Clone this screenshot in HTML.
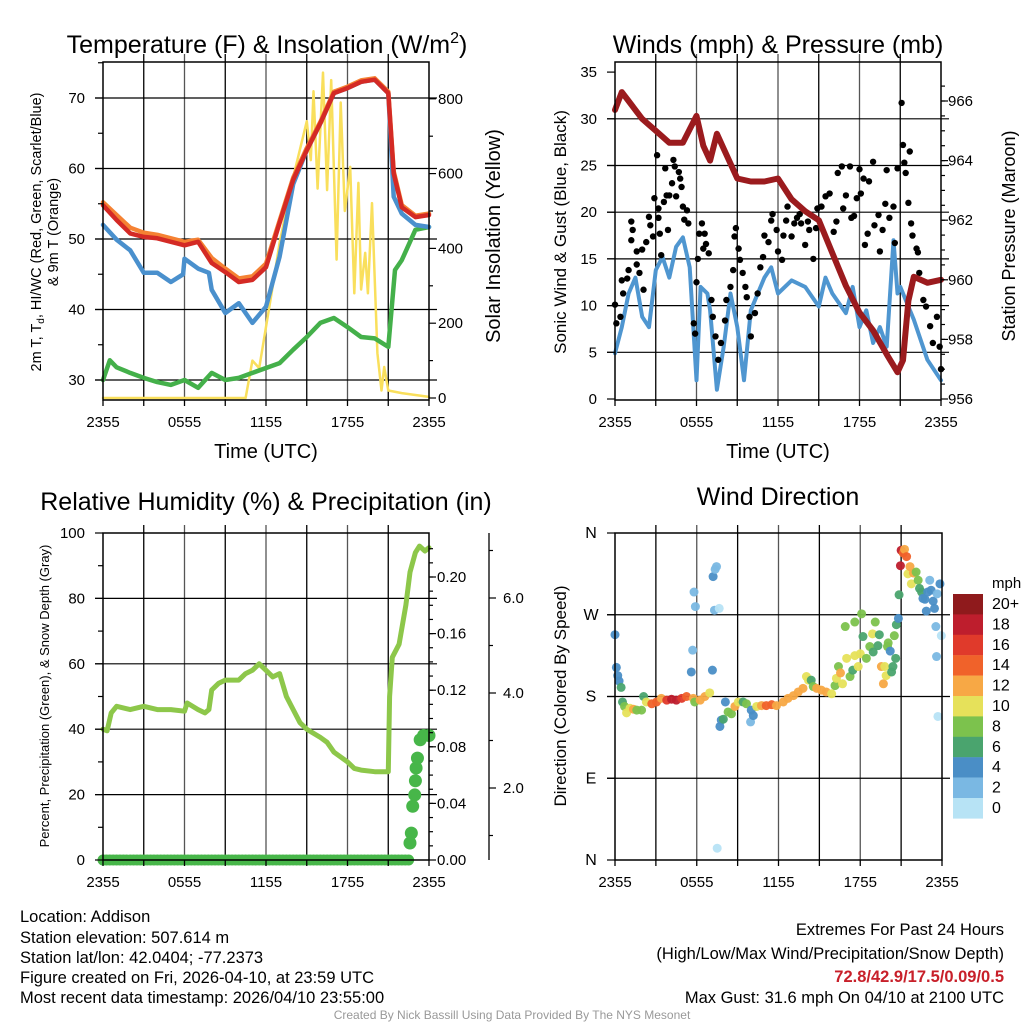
<!DOCTYPE html>
<html><head><meta charset="utf-8"><style>
html,body{margin:0;padding:0;background:#fff;}
svg{display:block;font-family:"Liberation Sans",sans-serif;}
</style></head><body>
<svg id="chart" width="1024" height="1024" viewBox="0 0 1024 1024" xmlns="http://www.w3.org/2000/svg">
<rect width="1024" height="1024" fill="#fff"/>
<g id="layer-grid"></g>
<g id="layer-data"></g>
<g id="layer-axes"></g>
<g font-size="25" text-anchor="middle" fill="#000">
<text x="267" y="53">Temperature (F) &amp; Insolation (W/m<tspan font-size="16" dy="-10">2</tspan><tspan dy="10">)</tspan></text>
<text x="778" y="53">Winds (mph) &amp; Pressure (mb)</text>
<text x="266" y="510">Relative Humidity (%) &amp; Precipitation (in)</text>
<text x="778" y="505">Wind Direction</text>
</g>
<g font-size="20" text-anchor="middle">
<text x="266" y="458">Time (UTC)</text>
<text x="778" y="458">Time (UTC)</text>
<text transform="translate(500,236) rotate(-90)">Solar Insolation (Yellow)</text>
<text transform="translate(1015,236) rotate(-90)" font-size="18">Station Pressure (Maroon)</text>
</g>
<g font-size="14.5" text-anchor="middle">
<text transform="translate(41,232) rotate(-90)">2m T, T<tspan font-size="10" dy="3">d</tspan><tspan dy="-3">, HI/WC (Red, Green, Scarlet/Blue)</tspan></text>
<text transform="translate(58,232) rotate(-90)">&amp; 9m T (Orange)</text>
</g>
<text transform="translate(49,696) rotate(-90)" font-size="13" text-anchor="middle">Percent, Precipitation (Green), &amp; Snow Depth (Gray)</text>
<g font-size="17" text-anchor="middle">
<text transform="translate(566,232) rotate(-90)">Sonic Wind &amp; Gust (Blue, Black)</text>
<text transform="translate(566,696) rotate(-90)">Direction (Colored By Speed)</text>
</g>
<g id="colorbar"></g>
<g font-size="16.5" fill="#000">
<text x="20" y="922">Location: Addison</text>
<text x="20" y="943">Station elevation: 507.614 m</text>
<text x="20" y="963">Station lat/lon: 42.0404; -77.2373</text>
<text x="20" y="983">Figure created on Fri, 2026-04-10, at 23:59 UTC</text>
<text x="20" y="1003">Most recent data timestamp: 2026/04/10 23:55:00</text>
</g>
<g font-size="16.5" text-anchor="end" fill="#000">
<text x="1004" y="935">Extremes For Past 24 Hours</text>
<text x="1004" y="959">(High/Low/Max Wind/Precipitation/Snow Depth)</text>
<text x="1004" y="982" fill="#c8202a" font-weight="bold">72.8/42.9/17.5/0.09/0.5</text>
<text x="1004" y="1003">Max Gust: 31.6 mph On 04/10 at 2100 UTC</text>
</g>
<text x="512" y="1019" font-size="12" fill="#999" text-anchor="middle">Created By Nick Bassill Using Data Provided By The NYS Mesonet</text>
</svg>
<script>
// ---------- data ----------
const xTickLabels = ["2355","0555","1155","1755","2355"];
const tempH = [0,1,2,3,4,5,6,7,8,9,10,11,12,13,14,15,16,17,18,19,20,21,21.4,22,23,24];
const tempRed = [54.8,52.7,50.8,50.3,50.1,49.6,49.1,49.6,46.6,45.3,43.9,44.2,46,52.3,58.4,62.6,66.4,70.7,71.4,72.3,72.6,70.7,59.3,54.5,53.1,53.4];
const tempOrange = [55.2,53.4,51.6,50.9,50.6,50.1,49.6,49.9,47.3,45.8,44.4,44.7,46.5,52.6,58.7,62.9,66.6,70.9,71.6,72.5,72.8,70.9,59.6,54.8,53.3,53.6];
const blueH = [0,1,2,3,4,5,5.9,6,7,7.8,8,9,10,11,12,13,14,15,16,17,18,19,20,21,21.4,22,23,24];
const tempBlue = [52,49.9,48.4,45.2,45.2,43.9,45,47.2,45.8,45.2,42.8,39.5,40.9,38.1,40.4,47.5,57.8,62.6,66.4,70.7,71.4,72.3,72.6,70.7,56,53.6,52,51.7];
const greenH = [0,0.5,1,2,3,4,5,6,7,8,9,10,11,12,13,14,15,16,17,18,19,20,21,21.5,22,23,24];
const tempGreen = [30,32.8,31.8,31,30.3,29.7,29.3,30,28.9,31,30,30.3,31,31.7,32.4,34.3,36.1,38.1,38.8,37.5,36.1,35.9,34.7,45.6,47,51.3,51.7];
const solarH = [0,10.5,11,11.5,12,12.5,13,14,15,15.3,15.5,15.8,16.2,16.5,16.8,17.2,17.5,17.8,18.2,18.5,18.8,19,19.3,19.5,19.8,20.2,20.5,20.7,21,22,24];
const solarV = [0,0,100,80,190,300,415,590,740,636,820,560,870,556,850,370,790,500,618,280,575,290,388,280,521,120,20,83,20,13,3];
const pressH = [0,0.5,1,2,3,4,5,6,6.5,7,7.5,8,9,10,11,12,13,14,15,16,17,18,19,20,20.8,21.2,21.6,22,23,24];
const pressV = [965.7,966.3,966.0,965.4,965.0,964.6,964.6,965.5,964.5,964.0,964.9,964.4,963.4,963.3,963.3,963.4,962.7,962.3,962.0,960.9,959.8,958.9,958.3,957.5,956.9,957.3,959.3,960.1,959.9,960.0];
const windH = [0,0.5,1,1.5,2,2.5,3,3.5,4,4.5,5,5.5,6,6.3,6.8,7,7.5,8,8.5,9,9.5,10,11,11.5,12,13,14,15,15.5,16,17,17.5,18,18.5,19,19.5,20,20.5,20.8,21,22,23,24];
const windV = [4.9,7.7,11.3,13,8.8,7.7,13.8,15.2,13,16.3,17.3,14.1,2,12,11.3,9.5,1,5.6,11.3,7.7,2,9.5,13,14.1,11.3,12.7,12,9.9,13,11.3,9.2,12,7.7,9.5,6,7.7,5.6,17,11.3,12,8.5,4.2,2];
const gustH = [0,0.1,0.4,0.5,0.6,0.9,1,1.2,1.2,1.3,1.6,1.6,1.8,2,2.1,2.3,2.5,2.6,2.8,2.9,3.1,3.2,3.2,3.3,3.4,3.6,3.7,3.8,3.9,4,4.2,4.3,4.4,4.5,4.7,4.8,4.9,5,5.1,5.3,5.4,5.8,5.9,6,6.1,6.2,6.4,6.5,6.6,6.7,6.9,7.1,7.2,7.4,7.6,7.8,8.1,8.2,8.5,8.7,8.8,8.9,9.1,9.2,9.4,9.6,9.7,9.9,10,10.3,10.5,10.7,10.9,11,11.3,11.5,11.6,11.9,12,12.3,12.4,12.6,12.7,13,13.2,13.4,13.6,13.7,14,14.2,14.3,14.6,14.8,14.9,15.2,15.5,15.8,16.1,16.3,16.4,16.7,16.8,17,17.3,17.4,17.6,17.8,18,18.1,18.3,18.4,18.6,18.7,19,19.1,19.4,19.5,19.7,19.9,20,20.2,20.5,20.6,20.8,21.1,21.2,21.3,21.4,21.6,21.7,21.8,21.9,22.2,22.3,22.4,22.7,22.9,23.2,23.4,23.7,23.9,24];
const gustV = [10.1,8.1,8.8,12.7,11.3,12.9,13.8,17,19,18.1,15.8,14.4,13.5,16,11.7,16.8,19.5,18.6,17.4,21.5,26.1,20.4,19.4,17.7,15.4,21.1,24.7,21.8,18.1,21.8,23.1,25.6,24.9,21.7,24.3,23.6,22.7,20.6,19.2,20.2,18.8,8.1,7,12.5,15,17.7,18.8,16.1,17.7,16.6,15.6,10.6,8.8,6.7,4.2,6,8.4,10.6,12,13.8,17.4,18.3,16.1,14.9,13.5,12,10.9,8.8,6.7,9.2,11.3,14.1,15.2,17.5,16.8,19.1,19.8,18.1,15.8,14.9,17.5,19.1,20.6,17.4,18.8,19.4,19.8,18.8,16.5,19,18.1,15,18.3,20.4,20.6,21.7,22,17.9,19,24.2,24.9,20.4,21.8,24.9,19.4,19.6,21.5,24.6,22,23.6,16.5,17.7,23.3,25.4,18.6,19.7,15.8,18.1,20.9,24.5,19.4,20.6,16.7,24.7,31.7,27.2,25.3,24.2,21,26.5,18.8,17.5,16.1,15.7,13.5,10.6,9.9,7.8,6,8.8,5.6,3.2];
const rhH = [0,0.3,0.6,1,2,3,4,5,6,6.2,7,7.5,7.8,8,8.5,9,10,10.5,11,11.5,12,12.5,13,13.5,14,14.5,15,16,16.5,17,18,18.5,19,20,21,21.1,21.3,21.8,22.3,22.6,23,23.3,23.7,24];
const rhV = [40,39.5,45,47,46,47,46,46,45.5,48,46,45,46,52,54,55,55,57,58,60,58,56,57,50,46,42,40,37.5,36,33,30,28,27.5,27,27,50,62,66,78,88,94,96,94.5,95.5];
const precipH = [22.6,22.7,22.8,22.95,23.0,23.05,23.15,23.35,23.6,24];
const precipV = [0.012,0.019,0.038,0.046,0.056,0.065,0.072,0.085,0.088,0.088];
const snowTickLabels = ["2.0","4.0","6.0"];
const dirH = [0,0.1,0.2,0.3,0.45,0.55,0.7,0.85,1.1,1.35,1.6,1.95,2.1,2.3,2.7,3.05,3.4,3.8,4.15,4.5,4.9,5.25,5.75,5.85,6.25,6.6,6.95,5.8,5.9,5.7,5.6,7.2,7.35,7.45,7.3,7.65,7.15,7.5,7.7,7.8,7.95,8.1,8.3,8.55,8.8,9.05,9.4,9.65,9.95,10.0,10.15,10.4,10.75,11.1,11.5,11.85,12.35,12.7,13.1,13.45,13.8,14.05,14.2,14.4,14.55,14.8,15.15,15.5,15.9,16.15,16.25,16.4,16.55,16.7,16.9,17.0,17.25,17.45,17.6,17.6,17.85,18.0,18.1,18.2,18.45,18.7,18.9,18.95,19.1,19.3,19.4,19.55,19.7,19.8,19.9,20.0,20.05,20.2,20.3,20.4,20.5,20.6,20.65,20.8,20.85,20.95,21.0,21.15,21.25,21.4,21.5,21.65,21.75,21.9,22.1,22.25,22.35,22.5,22.6,22.75,22.85,22.95,23.1,23.2,23.35,23.45,23.55,23.6,23.65,23.7,23.85,23.95];
const dirDeg = [248,212,203,197,190,174,169,162,167,166,165,165,180,174,172,174,178,176,177,176,178,180,178,174,176,180,184,295,279,231,207,312,320,323,275,277,209,13,147,154,155,174,163,161,169,174,174,172,152,165,159,169,170,170,171,170,174,178,181,185,189,202,198,198,191,189,187,185,183,192,200,213,206,194,257,222,202,209,262,225,213,227,271,246,222,235,249,229,262,236,248,213,194,213,203,235,239,230,207,213,247,222,259,266,292,324,341,338,342,334,315,323,304,316,317,308,299,295,288,287,274,295,308,297,285,277,257,224,293,158,304,247];
const dirSpd = [4,4,4,4,6,6,8,10,10,12,8,8,6,10,14,14,12,16,18,18,16,14,12,8,12,12,10,2,2,2,4,4,2,2,2,0,4,0,4,4,6,4,8,8,12,10,6,8,2,4,4,10,12,14,14,12,12,12,12,12,12,10,10,6,8,12,12,12,10,8,10,8,12,10,8,10,8,6,8,10,10,10,8,6,8,8,10,6,8,6,6,12,12,10,10,8,8,4,6,6,8,6,6,4,6,18,18,14,12,14,10,12,10,12,8,8,6,6,4,4,4,4,2,4,4,4,2,2,2,0,4,0];
const speedBinLabels = ["20+","18","16","14","12","10","8","6","4","2","0"];
const speedBinColors = ["#8f1a1c","#be1e2d","#e03a2b","#f0622a","#f7a845","#e6e15a","#7cc24d","#4aa46e","#4a8ec6","#7ab8e3","#b7e3f5"];

// ---------- helpers ----------
const NS = "http://www.w3.org/2000/svg";
const gGrid = document.getElementById("layer-grid");
const gData = document.getElementById("layer-data");
const gAxes = document.getElementById("layer-axes");
const gCbar = document.getElementById("colorbar");
function mk(tag, attrs, parent){ const e=document.createElementNS(NS,tag); for(const k in attrs) e.setAttribute(k,attrs[k]); parent.appendChild(e); return e; }

const P1={x0:103,x1:429,y0:62,y1:400};
const P2={x0:615,x1:941,y0:62,y1:400};
const P3={x0:103,x1:429,y0:533,y1:860};
const P4={x0:615,x1:942,y0:533,y1:860};
function xs(p,h){ return p.x0 + h/24*(p.x1-p.x0); }
const yTemp = v => 380-(v-30)*7.05;
const ySolar = v => 398 - v*0.374;
const yWind = v => 399 - v*9.34;
const yPress = v => 399 - (v-956)*29.8;
const yRH = v => 860 - v*3.27;
const yPrecip = v => 860 - v*(283/0.2);
const ySnow = v => 883 - v*47.5;
const yDir = v => 860 - v/360*327;

function frame(p, name){
  for(let i=1;i<8;i++){
    const x=xs(p,i*3);
    const l=mk("line",{x1:x,y1:p.y0-8,x2:x,y2:p.y1,stroke:(i%2?"#000":"#555"),"stroke-width":1.3},gGrid);
    
    
  }
  const r=mk("rect",{x:p.x0,y:p.y0,width:p.x1-p.x0,height:p.y1-p.y0,fill:"none",stroke:"#000","stroke-width":1.5},gAxes);
  
  
  for(let i=0;i<=8;i++){
    const x=xs(p,i*3);
    mk("line",{x1:x,y1:p.y1,x2:x,y2:p.y1+6,stroke:"#000","stroke-width":1.3},gAxes);
  }
  xTickLabels.forEach((t,i)=>{
    const tx=mk("text",{x:xs(p,i*6),y:p.y1+27,"font-size":15,"text-anchor":"middle"},gAxes);
    tx.textContent=t;
    
    
  });
}
function hgrid(p,y,name){
  const l=mk("line",{x1:p.x0-8,y1:y,x2:p.x1+8,y2:y,stroke:"#000","stroke-width":1.2},gGrid);
  
  
}
function tick(x,y,len){ mk("line",{x1:x,y1:y,x2:x+len,y2:y,stroke:"#000","stroke-width":1.2},gAxes); }
function label(x,y,t,anchor,name,size){
  const tx=mk("text",{x:x,y:y+5,"font-size":size||15,"text-anchor":anchor},gAxes);
  tx.textContent=t;
  
  
}
function line(p,hs,vs,yf,color,w,name){
  const pts=hs.map((h,i)=>xs(p,h).toFixed(1)+","+yf(vs[i]).toFixed(1)).join(" ");
  const pl=mk("polyline",{points:pts,fill:"none",stroke:color,"stroke-width":w,"stroke-linejoin":"round","stroke-linecap":"round"},gData);
  
  
}

// ---------- Panel 1 ----------
frame(P1,"temp");
for(let v=30;v<=70;v+=10){ hgrid(P1,yTemp(v),"temp-hgrid"); label(85,yTemp(v),String(v),"end","temp-y-tick-label"); tick(P1.x0-8,yTemp(v),8); }
for(let v=35;v<=75;v+=10){ tick(P1.x0-5,yTemp(v),5); }
for(let v=0;v<=800;v+=200){ tick(P1.x1,ySolar(v),7); label(438,ySolar(v),String(v),"start","solar-y-tick-label"); }
for(let v=100;v<=800;v+=200){ tick(P1.x1,ySolar(v),4); }
line(P1,solarH,solarV,ySolar,"#f9df5c",2.5,"solar-insolation-line");
line(P1,greenH,tempGreen,yTemp,"#44b04a",4.5,"dewpoint-line");
line(P1,blueH,tempBlue,yTemp,"#4a90cd",4.5,"windchill-line");
line(P1,tempH,tempOrange,yTemp,"#f58233",4.5,"temp-9m-line");
line(P1,tempH,tempRed,yTemp,"#d42a25",4.5,"temp-2m-line");

// ---------- Panel 2 ----------
frame(P2,"wind");
for(let v=0;v<=35;v+=5){ if(v>0&&v<35) hgrid(P2,yWind(v),"wind-hgrid"); label(597,yWind(v),String(v),"end","wind-y-tick-label"); tick(P2.x0-8,yWind(v),8); }
for(let v=956;v<=966;v+=2){ tick(P2.x1,yPress(v),7); label(948,yPress(v),String(v),"start","pressure-y-tick-label"); }
for(let v=956.5;v<=966.5;v+=0.5){ tick(P2.x1,yPress(v),4); }
line(P2,windH,windV,yWind,"#4f96d0",4,"sonic-wind-line");
gustH.forEach((h,i)=>{
  const c=mk("circle",{cx:xs(P2,h),cy:yWind(gustV[i]),r:3.2,fill:"#000"},gData);
  
  
});
line(P2,pressH,pressV,yPress,"#9b1b1e",6,"pressure-line");

// ---------- Panel 3 ----------
frame(P3,"rh");
for(let v=0;v<=100;v+=20){ if(v>0&&v<100) hgrid(P3,yRH(v),"rh-hgrid"); label(85,yRH(v),String(v),"end","rh-y-tick-label"); tick(P3.x0-8,yRH(v),8); }
for(let v=10;v<=90;v+=20){ tick(P3.x0-5,yRH(v),5); }
for(let v=0;v<=0.2001;v+=0.04){ tick(P3.x1,yPrecip(v),7); label(437,yPrecip(v),v.toFixed(2),"start","precip-y-tick-label"); }
for(let v=0.01;v<=0.23;v+=0.01){ tick(P3.x1,yPrecip(v),4); }
const sa=mk("line",{x1:489,y1:533,x2:489,y2:860,stroke:"#000","stroke-width":1.3},gAxes);


snowTickLabels.forEach((t)=>{ const v=parseFloat(t); tick(489,ySnow(v),7); label(503,ySnow(v),t,"start","snow-y-tick-label"); });
for(let v=1;v<=7;v+=2){ tick(489,ySnow(v),4); }
line(P3,rhH,rhV,yRH,"#8dc74a",5,"relative-humidity-line");
for(let h=0;h<=22.5;h+=0.25){
  const c=mk("circle",{cx:xs(P3,h),cy:yPrecip(0),r:5.5,fill:"#47b649"},gData);
  
  
}
precipH.forEach((h,i)=>{
  const c=mk("circle",{cx:xs(P3,h),cy:yPrecip(precipV[i]),r:6.5,fill:"#47b649"},gData);
  
  
});

// ---------- Panel 4 ----------
frame(P4,"direction");
const dirLabels=["N","E","S","W","N"];
dirLabels.forEach((t,i)=>{ const v=i*90; if(i>0&&i<4) hgrid(P4,yDir(v),"direction-hgrid"); tick(P4.x0-8,yDir(v),8); label(591,yDir(v),t,"middle","direction-y-tick-label",16); });
function binOf(s){ return Math.max(0,10-Math.min(10,Math.floor(s/2))); }
dirH.forEach((h,i)=>{
  const c=mk("circle",{cx:xs(P4,h),cy:yDir(dirDeg[i]),r:4.5,fill:speedBinColors[binOf(dirSpd[i])],"fill-opacity":0.95},gData);
  
  
});
label(992,583,"mph","start","colorbar-title",15);
speedBinLabels.forEach((t,i)=>{
  const y=594+i*20.4;
  const r=mk("rect",{x:953,y:y,width:30,height:20.6,fill:speedBinColors[i]},gCbar);
  
  
  label(992,y+10,t,"start","colorbar-label",16);
});
</script>
</body></html>
